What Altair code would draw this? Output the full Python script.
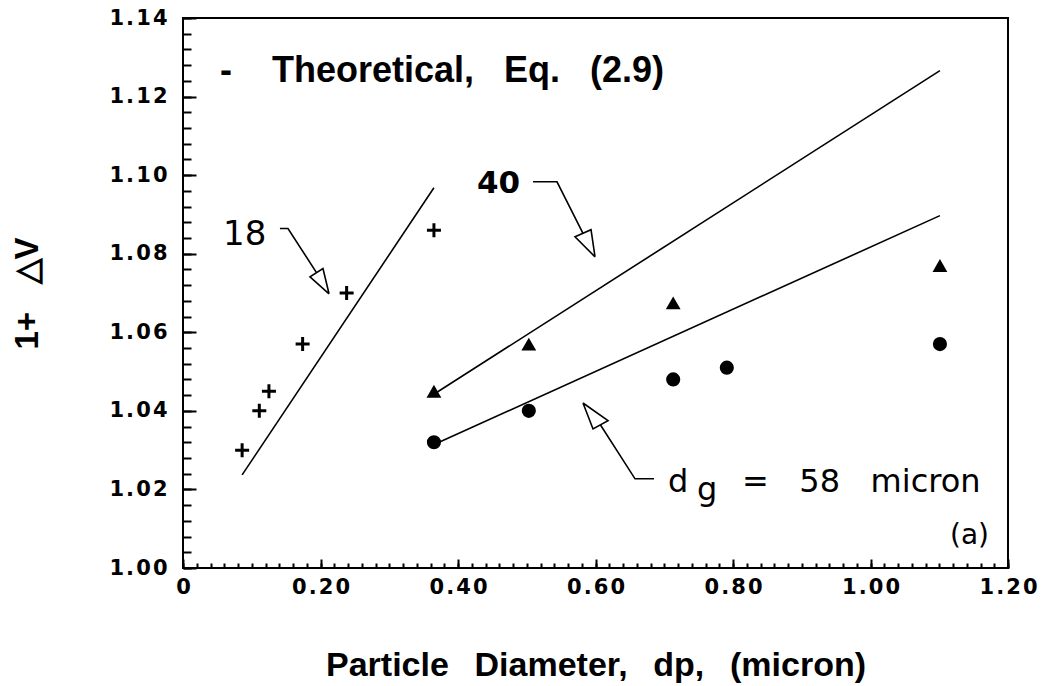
import altair as alt
import pandas as pd

SANS = "DejaVu Sans"
HELV = "Liberation Sans"
SP = "\u00a0"      # non-breaking space keeps the wide word gaps in SVG text
THIN = "\u2009"    # thin space
GAP = "\u200a"     # hair space used to spread the tick-label digits

# Measured points, one group per collector diameter d_g (micron)
dp_18 = [0.086, 0.111, 0.125, 0.174, 0.238, 0.365]
dv_18 = [1.030, 1.040, 1.045, 1.057, 1.070, 1.086]

dp_40 = [0.365, 0.503, 0.713, 1.101]
dv_40 = [1.045, 1.057, 1.0675, 1.077]

dp_58 = [0.365, 0.503, 0.713, 0.791, 1.101]
dv_58 = [1.032, 1.040, 1.048, 1.051, 1.057]

# Theoretical lines from Eq. (2.9), end points of each
theory_group = ["18", "18", "40", "40", "58", "58"]
theory_dp = [0.086, 0.365, 0.37, 1.101, 0.37, 1.101]
theory_dv = [1.0237, 1.0968, 1.0448, 1.1266, 1.0318, 1.0897]

# Call-out leaders (label -> bend -> arrow-head base) and open arrow heads
leader_18_dp = [0.141, 0.1527, 0.1942]
leader_18_dv = [1.0864, 1.0864, 1.0752]
head_18_dp = [0.2124, 0.1847, 0.2036, 0.2124]
head_18_dv = [1.0698, 1.0741, 1.0762, 1.0698]

leader_40_dp = [0.5091, 0.544, 0.5818]
leader_40_dv = [1.0983, 1.0983, 1.0852]
head_40_dp = [0.5993, 0.5702, 0.5935, 0.5993]
head_40_dv = [1.0792, 1.0843, 1.0861, 1.0792]

leader_58_dp = [0.6851, 0.6575, 0.6073]
leader_58_dv = [1.0227, 1.0227, 1.0364]
head_58_dp = [0.5818, 0.5964, 0.6182, 0.5818]
head_58_dv = [1.0420, 1.0354, 1.0375, 1.0420]

# Legend line (bold face)
legend_text = ["-" + SP * 4 + "Theoretical," + SP * 3 + "Eq." + SP * 3 + "(2.9)"]
legend_dp = [0.0538]
legend_dv = [1.1238]
legend_size = [36]

# Regular-weight annotations: content, anchor (left, baseline), font size
note_text = ["18", "d", "g", "=" + SP * 3 + "58" + SP * 3 + "micron", "(a)"]
note_dp = [0.0582, 0.7055, 0.7476, 0.8131, 1.1156]
note_dv = [1.0823, 1.0194, 1.0173, 1.0194, 1.0062]
note_size = [34, 32, 32, 32, 28]

# The "40" call-out label is set in bold
bold_text = ["40"]
bold_dp = [0.4276]
bold_dv = [1.0955]
bold_size = [31]

# Axis tick values
x_major = [0, 0.2, 0.4, 0.6, 0.8, 1.0, 1.2]
x_minor = [round(i * 0.02, 2) for i in range(61)]
y_major = [1.00, 1.02, 1.04, 1.06, 1.08, 1.10, 1.12, 1.14]
y_minor = [round(1.0 + i * 0.004, 3) for i in range(36)]

W, H = 825, 550

xs = alt.Scale(domain=[0, 1.2], nice=False, zero=False)
ys = alt.Scale(domain=[1.0, 1.14], nice=False, zero=False)


def X(axis=None):
    return alt.X("dp:Q", scale=xs, axis=axis)


def Y(axis=None):
    return alt.Y("dv:Q", scale=ys, axis=axis)


def tick_axis(orient, offset, values, size):
    # inward-pointing ticks: an axis on the opposite side, shifted onto this edge
    return alt.Axis(
        orient=orient, offset=offset, values=values, labels=False,
        domain=False, grid=False, ticks=True, tickSize=size, tickWidth=2,
        tickColor="black", title="",
    )


# Axes carrying the labels and titles (no tick marks of their own)
x_label_axis = alt.Axis(
    orient="bottom", values=x_major,
    labelExpr="join(split(datum.value == 0 ? '0' : format(datum.value, '.2f'), ''), '" + GAP + "')",
    ticks=False, domain=False, grid=False,
    labelFont=SANS, labelFontSize=21, labelFontWeight="bold", labelColor="black",
    labelPadding=8, labelFlush=False, labelOverlap=False,
    title="Particle" + SP * 2 + THIN + "Diameter," + SP * 2 + THIN + "dp," + SP * 2 + THIN + "(micron)",
    titleFont=HELV, titleFontSize=34, titleFontWeight="bold", titleColor="black",
    titleX=412.5, titleY=107, titleAlign="center", titleBaseline="alphabetic",
)
y_label_axis = alt.Axis(
    orient="left", values=y_major,
    labelExpr="join(split(format(datum.value, '.2f'), ''), '" + GAP + "')",
    ticks=False, domain=False, grid=False,
    labelFont=SANS, labelFontSize=21, labelFontWeight="bold", labelColor="black",
    labelPadding=16, labelFlush=False, labelOverlap=False,
    title="1+" + SP * 3 + "\u25b3V",
    titleFont=HELV, titleFontSize=33, titleFontWeight="bold", titleColor="black",
    titleX=-146, titleY=275, titleAngle=270, titleAlign="center",
    titleBaseline="alphabetic",
)

theory_df = pd.DataFrame({"grp": theory_group, "dp": theory_dp, "dv": theory_dv})
pts18 = pd.DataFrame({"dp": dp_18, "dv": dv_18})
pts40 = pd.DataFrame({"dp": dp_40, "dv": dv_40})
pts58 = pd.DataFrame({"dp": dp_58, "dv": dv_58})

arrow_rows = []
for name, dps, dvs in [
    ("L18", leader_18_dp, leader_18_dv), ("H18", head_18_dp, head_18_dv),
    ("L40", leader_40_dp, leader_40_dv), ("H40", head_40_dp, head_40_dv),
    ("L58", leader_58_dp, leader_58_dv), ("H58", head_58_dp, head_58_dv),
]:
    for k, (a, b) in enumerate(zip(dps, dvs)):
        arrow_rows.append({"seg": name, "k": k, "dp": a, "dv": b})
arrow_df = pd.DataFrame(arrow_rows)


def text_frame(txt, dps, dvs, sizes):
    return pd.DataFrame({"txt": txt, "dp": dps, "dv": dvs, "fs": sizes})


theory = alt.Chart(theory_df).mark_line(color="black", strokeWidth=1.6).encode(
    x=X(x_label_axis), y=Y(y_label_axis), detail="grp:N"
)

plus = alt.Chart(pts18).mark_point(
    shape="M-1,0L1,0M0,-1L0,1", filled=False, color="black",
    strokeWidth=3, size=196, opacity=1,
).encode(
    x=X(tick_axis("top", -H, x_major, 9)),
    y=Y(tick_axis("right", -W, y_major, 13)),
)

tri = alt.Chart(pts40).mark_point(
    shape="triangle-up", filled=True, color="black", size=220, opacity=1
).encode(
    x=X(tick_axis("top", -H, x_minor, 5)),
    y=Y(tick_axis("right", -W, y_minor, 8)),
)

dots = alt.Chart(pts58).mark_point(
    shape="circle", filled=True, color="black", size=200, opacity=1
).encode(x=X(), y=Y())

arrows = alt.Chart(arrow_df).mark_line(color="black", strokeWidth=1.6).encode(
    x=X(), y=Y(), detail="seg:N", order="k:Q"
)


def text_layer(df, font, weight):
    return alt.Chart(df).mark_text(
        align="left", baseline="alphabetic", font=font, fontWeight=weight, color="black"
    ).encode(
        x=X(), y=Y(), text="txt:N", size=alt.Size("fs:Q", scale=None)
    )


legend = text_layer(text_frame(legend_text, legend_dp, legend_dv, legend_size), HELV, "bold")
notes = text_layer(text_frame(note_text, note_dp, note_dv, note_size), SANS, "normal")
bold_notes = text_layer(text_frame(bold_text, bold_dp, bold_dv, bold_size), SANS, "bold")

chart = (
    alt.layer(theory, plus, tri, dots, arrows, legend, notes, bold_notes)
    .resolve_axis(x="independent", y="independent")
    .properties(
        width=W, height=H,
        padding={"left": 183, "top": 18, "right": 46, "bottom": 118},
        autosize=alt.AutoSizeParams(type="none"),
        background="white",
    )
    .configure_view(stroke="black", strokeWidth=2)
)

chart.save("out.html", embed_options={"renderer": "svg", "actions": False})
